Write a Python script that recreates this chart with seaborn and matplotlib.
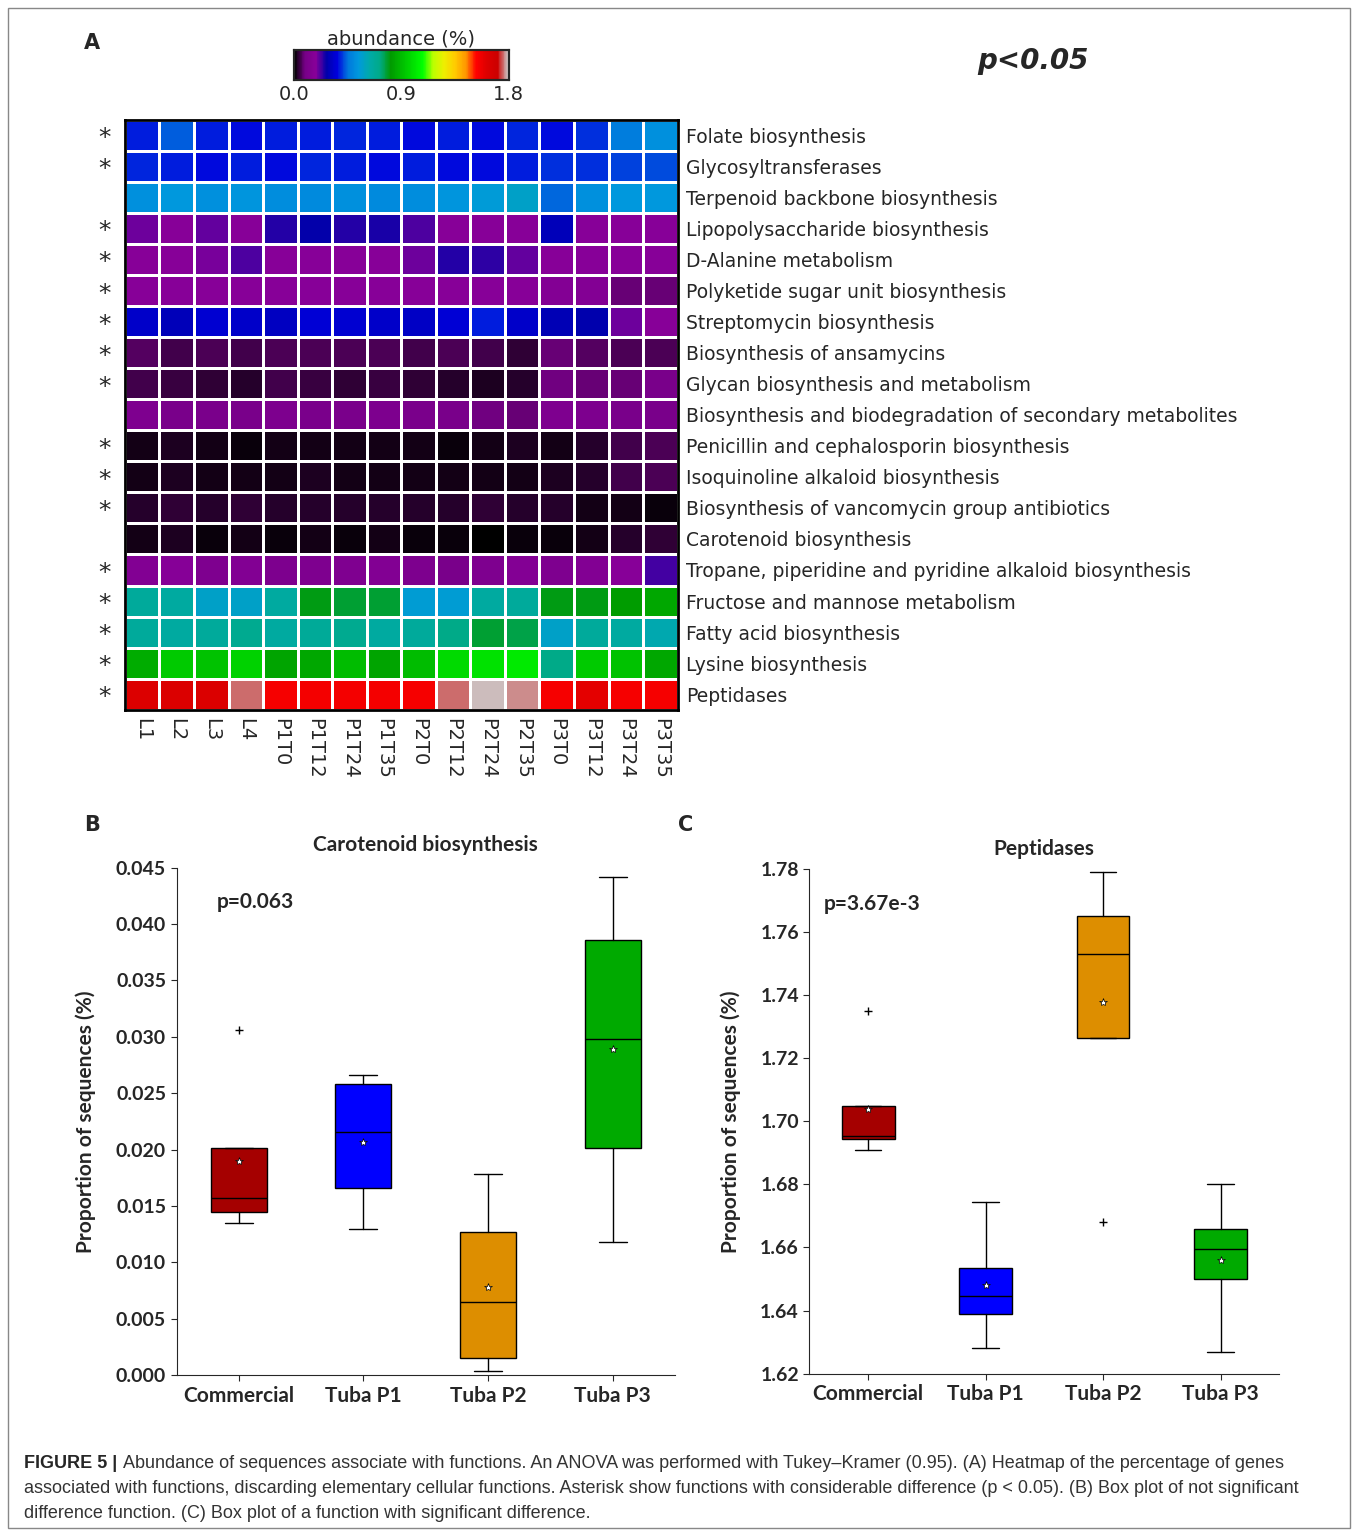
import numpy as np
import pandas as pd
import seaborn as sns
import matplotlib.pyplot as plt

sns.set_style("white")
plt.rcParams['font.family'] = ['DejaVu Sans']

# heatmap data (abundance %)
samples = ['L1', 'L2', 'L3', 'L4', 'P1T0', 'P1T12', 'P1T24', 'P1T35', 'P2T0', 'P2T12',
           'P2T24', 'P2T35', 'P3T0', 'P3T12', 'P3T24', 'P3T35']
functions = ['Folate biosynthesis', 'Glycosyltransferases', 'Terpenoid backbone biosynthesis',
             'Lipopolysaccharide biosynthesis', 'D-Alanine metabolism',
             'Polyketide sugar unit biosynthesis', 'Streptomycin biosynthesis',
             'Biosynthesis of ansamycins', 'Glycan biosynthesis and metabolism',
             'Biosynthesis and biodegradation of secondary metabolites',
             'Penicillin and cephalosporin biosynthesis', 'Isoquinoline alkaloid biosynthesis',
             'Biosynthesis of vancomycin group antibiotics', 'Carotenoid biosynthesis',
             'Tropane, piperidine and pyridine alkaloid biosynthesis',
             'Fructose and mannose metabolism', 'Fatty acid biosynthesis',
             'Lysine biosynthesis', 'Peptidases']
significant = [1, 1, 0, 1, 1, 1, 1, 1, 1, 0, 1, 1, 1, 0, 1, 1, 1, 1, 1]
abundance = [
    [0.38, 0.43, 0.38, 0.37, 0.38, 0.38, 0.39, 0.38, 0.37, 0.38, 0.37, 0.39, 0.37, 0.40, 0.47, 0.52],
    [0.39, 0.38, 0.37, 0.38, 0.37, 0.39, 0.38, 0.37, 0.38, 0.37, 0.37, 0.38, 0.40, 0.40, 0.41, 0.42],
    [0.52, 0.54, 0.52, 0.53, 0.51, 0.50, 0.52, 0.50, 0.51, 0.53, 0.55, 0.58, 0.44, 0.52, 0.54, 0.54],
    [0.20, 0.18, 0.21, 0.18, 0.25, 0.27, 0.25, 0.26, 0.22, 0.18, 0.18, 0.18, 0.30, 0.18, 0.18, 0.18],
    [0.18, 0.18, 0.19, 0.22, 0.18, 0.18, 0.18, 0.18, 0.20, 0.25, 0.24, 0.21, 0.18, 0.18, 0.18, 0.18],
    [0.18, 0.18, 0.18, 0.18, 0.18, 0.18, 0.18, 0.18, 0.18, 0.18, 0.18, 0.18, 0.16, 0.16, 0.08, 0.08],
    [0.33, 0.30, 0.34, 0.33, 0.31, 0.35, 0.34, 0.33, 0.32, 0.35, 0.38, 0.33, 0.29, 0.28, 0.20, 0.18],
    [0.07, 0.05, 0.06, 0.05, 0.06, 0.06, 0.06, 0.06, 0.05, 0.06, 0.05, 0.04, 0.08, 0.07, 0.06, 0.06],
    [0.05, 0.045, 0.04, 0.035, 0.05, 0.045, 0.04, 0.045, 0.04, 0.03, 0.025, 0.035, 0.09, 0.08, 0.08, 0.10],
    [0.13, 0.10, 0.11, 0.10, 0.12, 0.11, 0.11, 0.12, 0.11, 0.10, 0.09, 0.08, 0.13, 0.12, 0.10, 0.10],
    [0.02, 0.025, 0.015, 0.01, 0.02, 0.015, 0.02, 0.02, 0.015, 0.01, 0.02, 0.025, 0.02, 0.03, 0.05, 0.06],
    [0.02, 0.025, 0.02, 0.02, 0.02, 0.025, 0.02, 0.02, 0.015, 0.02, 0.015, 0.02, 0.025, 0.03, 0.05, 0.06],
    [0.03, 0.04, 0.03, 0.04, 0.035, 0.03, 0.035, 0.03, 0.035, 0.03, 0.04, 0.035, 0.03, 0.02, 0.015, 0.01],
    [0.02, 0.025, 0.012, 0.015, 0.01, 0.015, 0.012, 0.015, 0.01, 0.008, 0.005, 0.01, 0.012, 0.02, 0.03, 0.04],
    [0.15, 0.17, 0.13, 0.15, 0.12, 0.13, 0.14, 0.15, 0.12, 0.10, 0.13, 0.16, 0.13, 0.15, 0.18, 0.23],
    [0.67, 0.66, 0.58, 0.58, 0.66, 0.80, 0.78, 0.78, 0.56, 0.56, 0.66, 0.67, 0.80, 0.80, 0.82, 0.85],
    [0.67, 0.66, 0.67, 0.70, 0.66, 0.68, 0.70, 0.66, 0.67, 0.72, 0.78, 0.76, 0.58, 0.67, 0.66, 0.62],
    [0.86, 0.94, 0.92, 0.96, 0.84, 0.85, 0.90, 0.84, 0.90, 0.98, 1.00, 1.02, 0.72, 0.94, 0.92, 0.85],
    [1.62, 1.63, 1.63, 1.755, 1.55, 1.56, 1.56, 1.56, 1.55, 1.755, 1.79, 1.77, 1.55, 1.60, 1.55, 1.55],
]

# box plot stats
groups = ['Commercial', 'Tuba P1', 'Tuba P2', 'Tuba P3']
box_colors = ['#A50000', '#0000FF', '#DD8E00', '#00AA00']
caro_low = [0.0135, 0.0130, 0.0004, 0.0118]
caro_q1 = [0.0145, 0.0166, 0.0015, 0.0201]
caro_med = [0.0157, 0.0216, 0.0065, 0.0298]
caro_q3 = [0.0201, 0.0258, 0.0127, 0.0386]
caro_high = [0.0201, 0.0266, 0.0178, 0.0442]
caro_mean = [0.0190, 0.0207, 0.0078, 0.0289]
caro_out = [[0.0306], [], [], []]
pep_low = [1.691, 1.628, 1.7265, 1.627]
pep_q1 = [1.6945, 1.639, 1.7265, 1.650]
pep_med = [1.6955, 1.6445, 1.753, 1.6595]
pep_q3 = [1.705, 1.6535, 1.765, 1.666]
pep_high = [1.705, 1.6745, 1.779, 1.680]
pep_mean = [1.704, 1.648, 1.738, 1.656]
pep_out = [[1.735], [], [1.668], []]

fig = plt.figure(figsize=(13.58, 15.33), dpi=100)

# ---- A: heatmap
df = pd.DataFrame(abundance, index=functions, columns=samples)
ax = fig.add_axes([0.092, 0.537, 0.407, 0.385])
cax = fig.add_axes([0.2165, 0.948, 0.158, 0.0196])
sns.heatmap(df, ax=ax, cmap='nipy_spectral', vmin=0, vmax=1.8, linewidths=2,
            linecolor='white', cbar_ax=cax, cbar_kws={'orientation': 'horizontal'})
for s in ax.spines.values():
    s.set_visible(True)
    s.set_linewidth(2)
    s.set_color('black')
ax.yaxis.tick_right()
ax.set_yticklabels(functions, rotation=0, fontsize=13.5)
ax.xaxis.tick_bottom()
ax.set_xticklabels(samples, rotation=-90, fontsize=14, va='top')
ax.tick_params(length=0, pad=6)
for i, sig in enumerate(significant):
    if sig:
        ax.text(-0.6, i + 0.6, '*', ha='center', va='center', fontsize=18)
cax.xaxis.set_ticks_position('bottom')
cax.set_xticks([0, 0.9, 1.8])
cax.set_xticklabels(['0.0', '0.9', '1.8'], fontsize=14)
cax.tick_params(length=0)
cax.set_title('abundance (%)', fontsize=14, pad=4)
for s in cax.spines.values():
    s.set_visible(True)
    s.set_linewidth(1.5)

fig.text(0.062, 0.972, 'A', fontsize=15, weight='bold', ha='left', va='center')
fig.text(0.761, 0.960, 'p<0.05', fontsize=20, weight='bold', style='italic', ha='center', va='center')


def draw_box(axb, low, q1, med, q3, high, mean, outs):
    stats = []
    for i in range(4):
        stats.append({'whislo': low[i], 'q1': q1[i], 'med': med[i], 'q3': q3[i],
                      'whishi': high[i], 'mean': mean[i], 'fliers': outs[i]})
    bp = axb.bxp(stats, widths=0.45, patch_artist=True, showmeans=True,
                 meanprops=dict(marker='*', markerfacecolor='white', markeredgecolor='black',
                                markersize=6, markeredgewidth=0.5),
                 flierprops=dict(marker='+', markersize=6, markeredgecolor='black'),
                 medianprops=dict(color='black', linewidth=1),
                 whiskerprops=dict(color='black'), capprops=dict(color='black'))
    for patch, c in zip(bp['boxes'], box_colors):
        patch.set_facecolor(c)
        patch.set_edgecolor('black')
    sns.despine(ax=axb)
    axb.set_xticks([1, 2, 3, 4])
    axb.set_xticklabels(groups, fontsize=15, weight='bold', family='Lato')
    axb.set_xlim(0.5, 4.5)
    axb.tick_params(axis='both', direction='out', length=4, left=True, bottom=True)
    axb.set_ylabel('Proportion of sequences (%)', fontsize=15, weight='bold', family='Lato',
                   labelpad=14)


# ---- B
axB = fig.add_axes([0.130, 0.103, 0.367, 0.331])
draw_box(axB, caro_low, caro_q1, caro_med, caro_q3, caro_high, caro_mean, caro_out)
axB.set_ylim(0, 0.045)
axB.set_yticks(np.arange(0, 0.0451, 0.005))
axB.set_yticklabels(['%.3f' % v for v in np.arange(0, 0.0451, 0.005)], fontsize=14,
                    weight='bold', family='Lato')
axB.set_title('Carotenoid biosynthesis', fontsize=15, weight='bold', family='Lato', pad=12)
axB.text(0.08, 0.92, 'p=0.063', transform=axB.transAxes, fontsize=15, weight='bold', family='Lato')
fig.text(0.062, 0.462, 'B', fontsize=15, weight='bold', va='center')

# ---- C
axC = fig.add_axes([0.596, 0.104, 0.346, 0.329])
draw_box(axC, pep_low, pep_q1, pep_med, pep_q3, pep_high, pep_mean, pep_out)
axC.set_ylim(1.62, 1.78)
axC.set_yticks(np.arange(1.62, 1.7801, 0.02))
axC.set_yticklabels(['%.2f' % v for v in np.arange(1.62, 1.7801, 0.02)], fontsize=14,
                    weight='bold', family='Lato')
axC.set_title('Peptidases', fontsize=15, weight='bold', family='Lato', pad=10)
axC.text(0.03, 0.92, 'p=3.67e-3', transform=axC.transAxes, fontsize=15, weight='bold', family='Lato')
fig.text(0.499, 0.462, 'C', fontsize=15, weight='bold', va='center')

# ---- caption
t = fig.text(0.018, 0.0425, 'FIGURE 5 | ', fontsize=13, weight='bold', family='Liberation Sans',
             va='baseline')
fig.canvas.draw()
x_end = fig.transFigure.inverted().transform(t.get_window_extent().get_points())[1][0]
fig.text(x_end, 0.0425, 'Abundance of sequences associate with functions. An ANOVA was '
         'performed with Tukey–Kramer (0.95). (A) Heatmap of the percentage of genes',
         fontsize=13, family='Liberation Sans', va='baseline', color='#333333')
fig.text(0.018, 0.0262, 'associated with functions, discarding elementary cellular functions. Asterisk '
         'show functions with considerable difference (p < 0.05). (B) Box plot of not significant',
         fontsize=13, family='Liberation Sans', va='baseline', color='#333333')
fig.text(0.018, 0.0099, 'difference function. (C) Box plot of a function with significant difference.',
         fontsize=13, family='Liberation Sans', va='baseline', color='#333333')

# outer frame
fig.patches.append(plt.Rectangle((0.006, 0.003), 0.988, 0.992, transform=fig.transFigure,
                                 fill=False, edgecolor='#888888', linewidth=1))

fig.savefig('out.png', dpi=100)
